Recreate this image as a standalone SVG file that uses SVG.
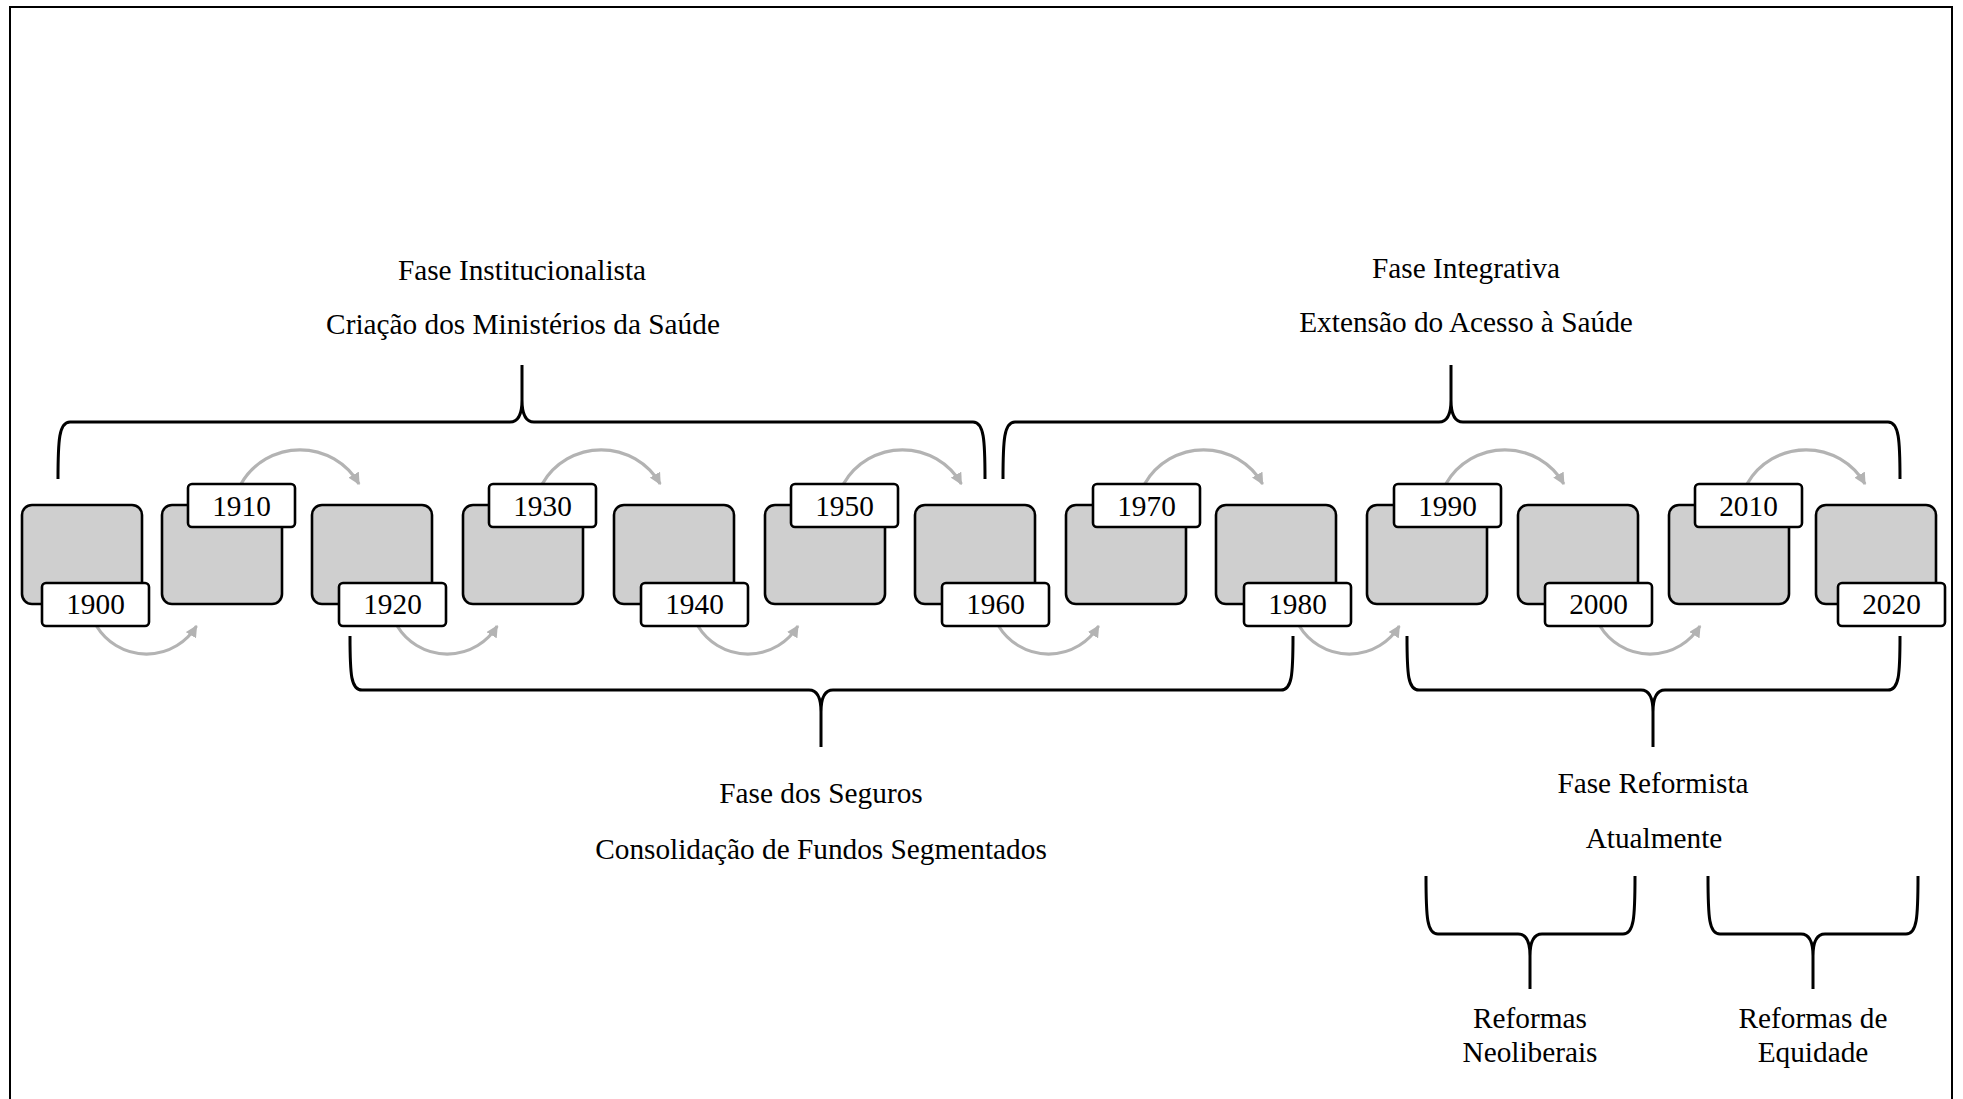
<svg xmlns="http://www.w3.org/2000/svg" width="1963" height="1099" viewBox="0 0 1963 1099">
<style>
text{font-family:"Liberation Serif","Times New Roman",serif;font-size:29.3px;fill:#000;text-anchor:middle}
.box{fill:#cfcfcf;stroke:#000;stroke-width:2.6}
.lab{fill:#fff;stroke:#000;stroke-width:2.6}
.arc{fill:none;stroke:#b3b3b3;stroke-width:3.2}
.brace{fill:none;stroke:#000;stroke-width:3;stroke-linecap:butt;stroke-linejoin:round}
</style>
<defs>
<marker id="ah" markerUnits="userSpaceOnUse" viewBox="0 0 10 10" refX="9" refY="5" markerWidth="12" markerHeight="12" orient="auto">
<path d="M0,0 L10,5 L0,10 z" fill="#b3b3b3"/>
</marker>
</defs>
<rect x="10" y="7" width="1942" height="1200" fill="#fff" stroke="#000" stroke-width="2"/>

<g id="connectors">
<path class="arc" marker-end="url(#ah)" d="M241,484 A68,68 0 0 1 359,484"/>
<path class="arc" marker-end="url(#ah)" d="M542.2,484 A68,68 0 0 1 660.2,484"/>
<path class="arc" marker-end="url(#ah)" d="M843.4,484 A68,68 0 0 1 961.4,484"/>
<path class="arc" marker-end="url(#ah)" d="M1144.6,484 A68,68 0 0 1 1262.6,484"/>
<path class="arc" marker-end="url(#ah)" d="M1445.8,484 A68,68 0 0 1 1563.8,484"/>
<path class="arc" marker-end="url(#ah)" d="M1747,484 A68,68 0 0 1 1865,484"/>
<path class="arc" marker-end="url(#ah)" d="M96.5,626 A58.6,58.6 0 0 0 196.5,626"/>
<path class="arc" marker-end="url(#ah)" d="M397.2,626 A58.6,58.6 0 0 0 497.2,626"/>
<path class="arc" marker-end="url(#ah)" d="M697.9,626 A58.6,58.6 0 0 0 797.9,626"/>
<path class="arc" marker-end="url(#ah)" d="M998.6,626 A58.6,58.6 0 0 0 1098.6,626"/>
<path class="arc" marker-end="url(#ah)" d="M1299.3,626 A58.6,58.6 0 0 0 1399.3,626"/>
<path class="arc" marker-end="url(#ah)" d="M1600,626 A58.6,58.6 0 0 0 1700,626"/>
</g>

<g id="n1900"><rect class="box" x="22" y="505" width="120" height="99" rx="10"/><rect class="lab" x="42" y="583" width="107" height="43" rx="4"/><text x="95.5" y="614">1900</text></g>
<g id="n1910"><rect class="box" x="162" y="505" width="120" height="99" rx="10"/><rect class="lab" x="188" y="484" width="107" height="43" rx="4"/><text x="241.5" y="515.5">1910</text></g>
<g id="n1920"><rect class="box" x="312" y="505" width="120" height="99" rx="10"/><rect class="lab" x="339" y="583" width="107" height="43" rx="4"/><text x="392.5" y="614">1920</text></g>
<g id="n1930"><rect class="box" x="463" y="505" width="120" height="99" rx="10"/><rect class="lab" x="489" y="484" width="107" height="43" rx="4"/><text x="542.5" y="515.5">1930</text></g>
<g id="n1940"><rect class="box" x="614" y="505" width="120" height="99" rx="10"/><rect class="lab" x="641" y="583" width="107" height="43" rx="4"/><text x="694.5" y="614">1940</text></g>
<g id="n1950"><rect class="box" x="765" y="505" width="120" height="99" rx="10"/><rect class="lab" x="791" y="484" width="107" height="43" rx="4"/><text x="844.5" y="515.5">1950</text></g>
<g id="n1960"><rect class="box" x="915" y="505" width="120" height="99" rx="10"/><rect class="lab" x="942" y="583" width="107" height="43" rx="4"/><text x="995.5" y="614">1960</text></g>
<g id="n1970"><rect class="box" x="1066" y="505" width="120" height="99" rx="10"/><rect class="lab" x="1093" y="484" width="107" height="43" rx="4"/><text x="1146.5" y="515.5">1970</text></g>
<g id="n1980"><rect class="box" x="1216" y="505" width="120" height="99" rx="10"/><rect class="lab" x="1244" y="583" width="107" height="43" rx="4"/><text x="1297.5" y="614">1980</text></g>
<g id="n1990"><rect class="box" x="1367" y="505" width="120" height="99" rx="10"/><rect class="lab" x="1394" y="484" width="107" height="43" rx="4"/><text x="1447.5" y="515.5">1990</text></g>
<g id="n2000"><rect class="box" x="1518" y="505" width="120" height="99" rx="10"/><rect class="lab" x="1545" y="583" width="107" height="43" rx="4"/><text x="1598.5" y="614">2000</text></g>
<g id="n2010"><rect class="box" x="1669" y="505" width="120" height="99" rx="10"/><rect class="lab" x="1695" y="484" width="107" height="43" rx="4"/><text x="1748.5" y="515.5">2010</text></g>
<g id="n2020"><rect class="box" x="1816" y="505" width="120" height="99" rx="10"/><rect class="lab" x="1838" y="583" width="107" height="43" rx="4"/><text x="1891.5" y="614">2020</text></g>

<g id="brace-institucionalista">
<path class="brace" d="M58,479 C58,440 59,422 70,422 L510,422 C518,422 522,415 522,400 L522,365 M522,400 C522,415 526,422 534,422 L973,422 C984,422 985,440 985,479"/>
<text x="522" y="280">Fase Institucionalista</text>
<text x="523" y="334">Criação dos Ministérios da Saúde</text>
</g>
<g id="brace-integrativa">
<path class="brace" d="M1003,479 C1003,440 1004,422 1015,422 L1439,422 C1447,422 1451,415 1451,400 L1451,365 M1451,400 C1451,415 1455,422 1463,422 L1888,422 C1899,422 1900,440 1900,479"/>
<text x="1466" y="277.5">Fase Integrativa</text>
<text x="1466" y="331.5">Extensão do Acesso à Saúde</text>
</g>
<g id="brace-seguros">
<path class="brace" d="M350,636 C350,675 351,690 362,690 L809,690 C817,690 821,697 821,712 L821,747 M821,712 C821,697 825,690 833,690 L1281,690 C1292,690 1293,675 1293,636"/>
<text x="821" y="803">Fase dos Seguros</text>
<text x="821" y="859">Consolidação de Fundos Segmentados</text>
</g>
<g id="brace-reformista">
<path class="brace" d="M1407,636 C1407,675 1408,690 1419,690 L1641,690 C1649,690 1653,697 1653,712 L1653,747 M1653,712 C1653,697 1657,690 1665,690 L1888,690 C1899,690 1900,675 1900,636"/>
<text x="1653" y="793">Fase Reformista</text>
<text x="1654" y="848">Atualmente</text>
</g>
<g id="brace-neoliberais">
<path class="brace" d="M1426,876 C1426,918 1427,934 1438,934 L1518,934 C1526,934 1530,941 1530,956 L1530,989 M1530,956 C1530,941 1534,934 1542,934 L1623,934 C1634,934 1635,918 1635,876"/>
<text x="1530" y="1028">Reformas</text>
<text x="1530" y="1062">Neoliberais</text>
</g>
<g id="brace-equidade">
<path class="brace" d="M1708,876 C1708,918 1709,934 1720,934 L1801,934 C1809,934 1813,941 1813,956 L1813,989 M1813,956 C1813,941 1817,934 1825,934 L1906,934 C1917,934 1918,918 1918,876"/>
<text x="1813" y="1028">Reformas de</text>
<text x="1813" y="1062">Equidade</text>
</g>
</svg>
